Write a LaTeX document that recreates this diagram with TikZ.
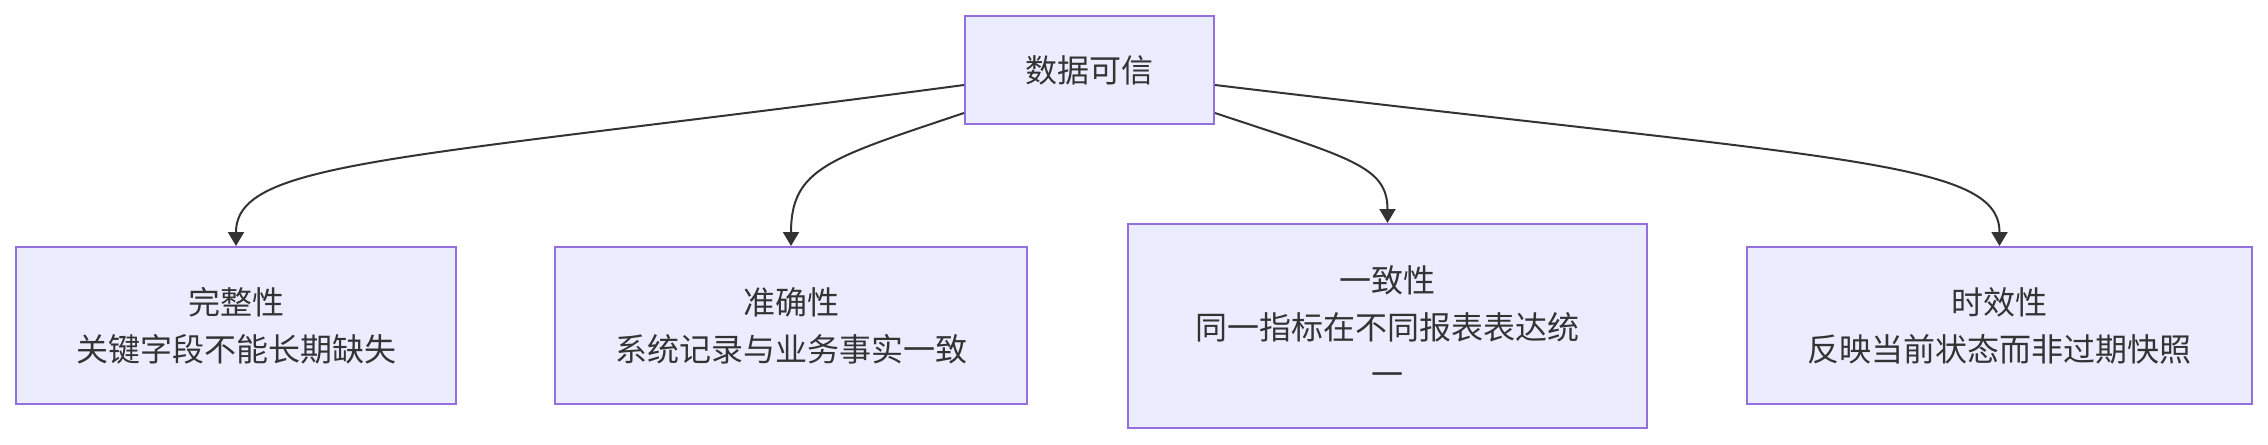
\documentclass[tikz,border=0pt]{standalone}
\usepackage{fontspec}
\setmainfont{Noto Sans CJK SC}
\usetikzlibrary{arrows.meta}
\definecolor{boxfill}{HTML}{ECECFF}
\definecolor{boxline}{HTML}{9370DB}
\definecolor{ink}{HTML}{333333}
\tikzset{
  box/.style  ={draw=boxline, fill=boxfill, line width=1pt, align=center,
                text=ink, font=\fontsize{16}{23.5}\selectfont, inner sep=0pt},
  link/.style ={-{Triangle[length=7pt,width=8pt]}, draw=ink, line width=1pt},
}

\begin{document}
\begin{tikzpicture}[x=0.5pt, y=-0.5pt]
\useasboundingbox (0,0) rectangle (2268,444);

\node[box, minimum width=124.5pt, minimum height=54pt] (trust) at (1089.5,70) {数据可信};
\node[box, minimum width=220pt, minimum height=78.5pt] (compl) at (236,325.5) {完整性\\关键字段不能长期缺失};
\node[box, minimum width=236pt, minimum height=78.5pt] (accur) at (791,325.5) {准确性\\系统记录与业务事实一致};
\node[box, minimum width=259.5pt, minimum height=102pt] (consis) at (1387.5,326) {一致性\\同一指标在不同报表表达统\\一};
\node[box, minimum width=252.5pt, minimum height=78.5pt] (timely) at (1999.5,325.5) {时效性\\反映当前状态而非过期快照};

\draw[link] (trust.west |- 0,85) .. controls (400,160) and (236,160) .. (compl.north);
\draw[link] (trust.west |- 0,113) .. controls (830,158) and (791,168) .. (accur.north);
\draw[link] (trust.east |- 0,113) .. controls (1350,158) and (1387.5,166) .. (consis.north);
\draw[link] (trust.east |- 0,85) .. controls (1840,160) and (1999.5,160) .. (timely.north);

\end{tikzpicture}
\end{document}
